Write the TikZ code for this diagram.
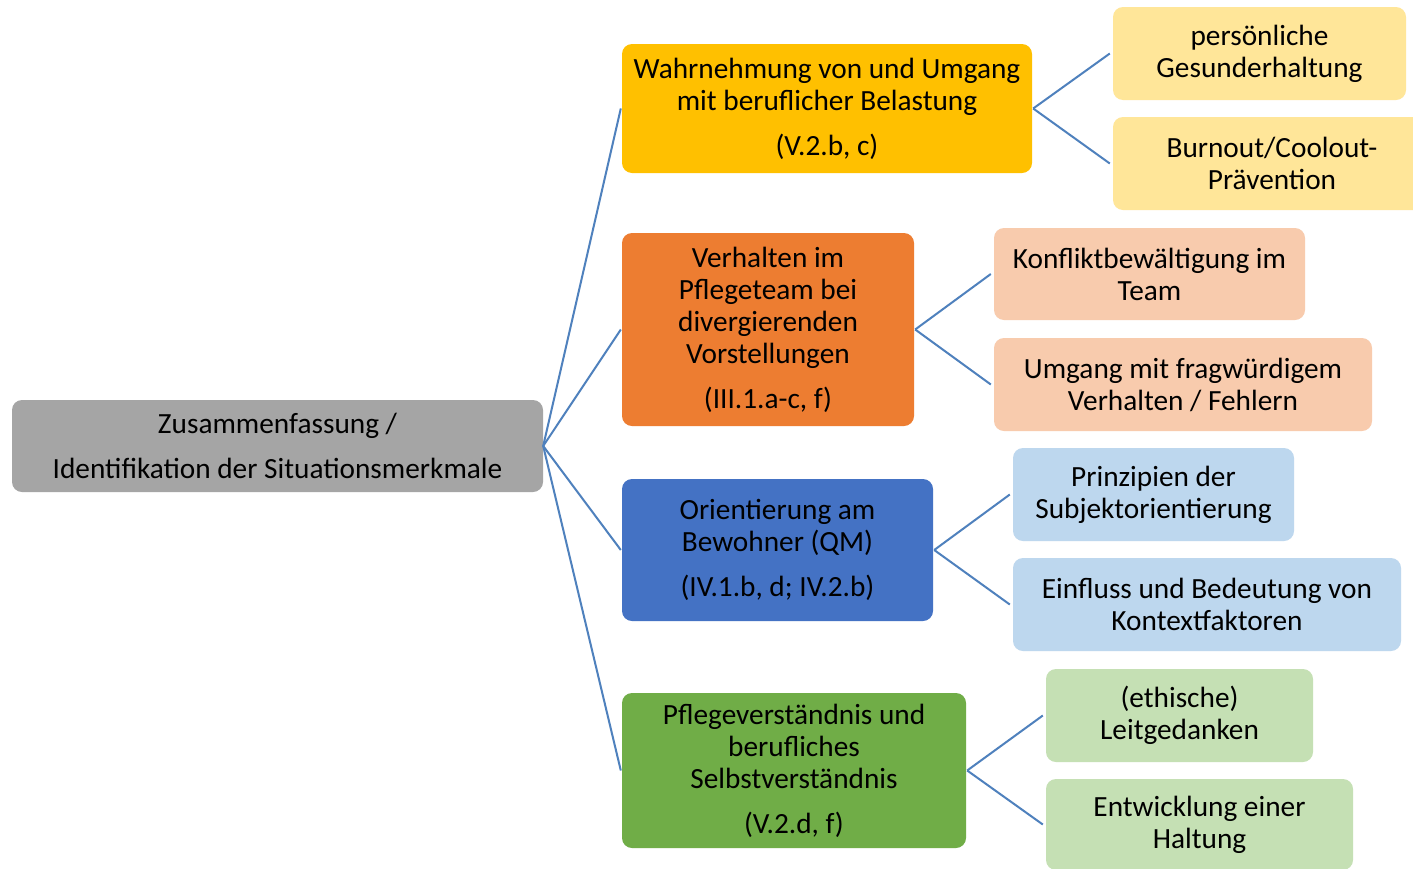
\documentclass[tikz,border=0pt]{standalone}
\usepackage{fontspec}
\setmainfont{Carlito}
\definecolor{cRoot}{HTML}{A5A5A5}
\definecolor{cY}{HTML}{FFC000}
\definecolor{cYl}{HTML}{FFE699}
\definecolor{cO}{HTML}{ED7D31}
\definecolor{cOl}{HTML}{F8CBAD}
\definecolor{cB}{HTML}{4472C4}
\definecolor{cBl}{HTML}{BDD7EE}
\definecolor{cG}{HTML}{70AD47}
\definecolor{cGl}{HTML}{C5E0B4}
\definecolor{cLine}{RGB}{79,129,189}
\tikzset{
  boxnode/.style={rounded corners=10pt, inner sep=0pt, align=center, text=black,
    font=\fontsize{29.3}{32}\selectfont},
  conn/.style={draw=cLine, line width=2pt},
}
\begin{document}
\begin{tikzpicture}[x=1pt,y=-1pt]
\clip (0,0) rectangle (1413,868);
\fill[white] (0,0) rectangle (1413,868);
% root
\node[boxnode, fill=cRoot, minimum width=531pt, minimum height=92pt] (r) at (277.5,446)
  {Zusammenfassung /\\[13pt]Identifikation der Situationsmerkmale};
% level 1
\node[boxnode, fill=cY, minimum width=410pt, minimum height=129pt] (y) at (827,108.5)
  {Wahrnehmung von und Umgang\\mit beruflicher Belastung\\[13pt](V.2.b, c)};
\node[boxnode, fill=cO, minimum width=292pt, minimum height=193pt] (o) at (768,329.5)
  {Verhalten im\\Pflegeteam bei\\divergierenden\\Vorstellungen\\[13pt](III.1.a-c, f)};
\node[boxnode, fill=cB, minimum width=311pt, minimum height=142pt] (b) at (777.5,550)
  {Orientierung am\\Bewohner (QM)\\[13pt](IV.1.b, d; IV.2.b)};
\node[boxnode, fill=cG, minimum width=344pt, minimum height=155pt] (g) at (794,770.5)
  {Pflegeverständnis und\\berufliches\\Selbstverständnis\\[13pt](V.2.d, f)};
% level 2
\node[boxnode, fill=cYl, minimum width=293pt, minimum height=93pt] (y1) at (1259.5,53.5)
  {persönliche\\Gesunderhaltung};
\node[boxnode, fill=cYl, minimum width=318pt, minimum height=93pt] (y2) at (1272,163.5)
  {Burnout/Coolout-\\Prävention};
\node[boxnode, fill=cOl, minimum width=311pt, minimum height=92pt] (o1) at (1149.5,274)
  {Konfliktbewältigung im\\Team};
\node[boxnode, fill=cOl, minimum width=378pt, minimum height=93pt] (o2) at (1183,384.5)
  {Umgang mit fragwürdigem\\Verhalten / Fehlern};
\node[boxnode, fill=cBl, minimum width=281pt, minimum height=93pt] (b1) at (1153.5,494.5)
  {Prinzipien der\\Subjektorientierung};
\node[boxnode, fill=cBl, minimum width=388pt, minimum height=93pt] (b2) at (1207,604.5)
  {Einfluss und Bedeutung von\\Kontextfaktoren};
\node[boxnode, fill=cGl, minimum width=267pt, minimum height=93pt] (g1) at (1179.5,715.5)
  {(ethische)\\Leitgedanken};
\node[boxnode, fill=cGl, minimum width=307pt, minimum height=91pt] (g2) at (1199.5,824.5)
  {Entwicklung einer\\Haltung};
% connectors root -> level 1
\foreach \n in {y,o,b,g}{
  \draw[conn] (r.east) -- ([xshift=-1pt]\n.west);
}
% connectors level 1 -> level 2
\foreach \p/\c in {y/y1,y/y2,o/o1,o/o2,b/b1,b/b2,g/g1,g/g2}{
  \draw[conn] ([xshift=1pt]\p.east) -- ([xshift=-3pt]\c.west);
}
\end{tikzpicture}
\end{document}
